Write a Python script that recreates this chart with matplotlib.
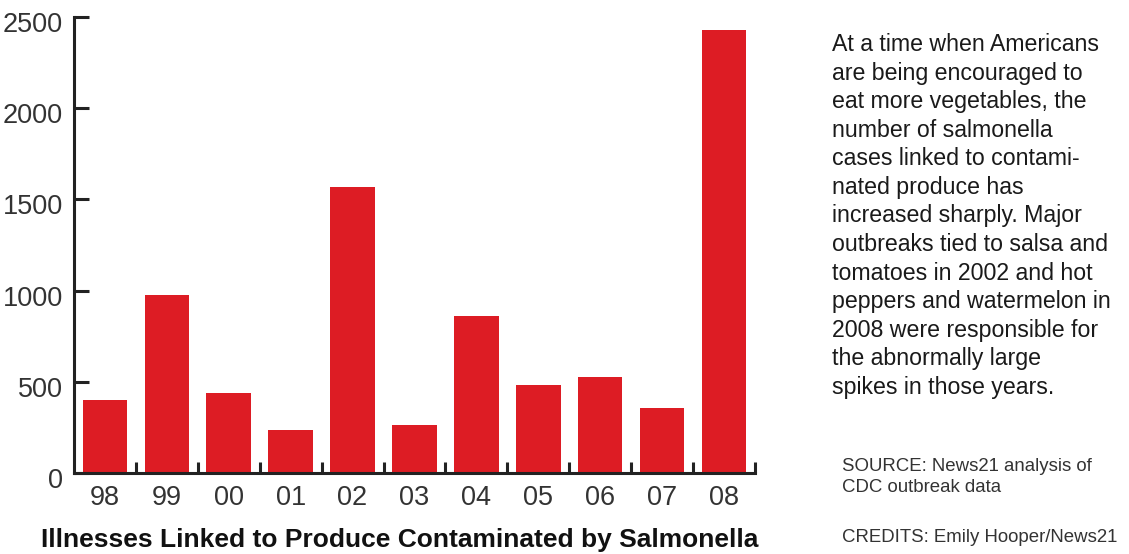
"""Salmonella illnesses linked to contaminated produce, 1998-2008."""

import matplotlib

matplotlib.use("Agg")
import matplotlib.pyplot as plt
import matplotlib.transforms as mtransforms
import numpy as np

plt.rcParams["font.family"] = ["Liberation Sans", "DejaVu Sans"]

years = ["98", "99", "00", "01", "02", "03", "04", "05", "06", "07", "08"]
illnesses = [400, 978, 438, 236, 1570, 263, 862, 480, 527, 353, 2430]
y_ticks = [0, 500, 1000, 1500, 2000, 2500]

title = "Illnesses Linked to Produce Contaminated by Salmonella"
blurb = (
    "At a time when Americans\n"
    "are being encouraged to\n"
    "eat more vegetables, the\n"
    "number of salmonella\n"
    "cases linked to contami-\n"
    "nated produce has\n"
    "increased sharply. Major\n"
    "outbreaks tied to salsa and\n"
    "tomatoes in 2002 and hot\n"
    "peppers and watermelon in\n"
    "2008 were responsible for\n"
    "the abnormally large\n"
    "spikes in those years."
)
source = "SOURCE: News21 analysis of\nCDC outbreak data"
credits = "CREDITS: Emily Hooper/News21"

RED = "#dd1c24"
INK = "#222222"

fig = plt.figure(figsize=(11.29, 5.54), dpi=100)
ax = fig.add_axes([0.0655, 0.1468, 0.6032, 0.822])

x = np.arange(len(years))
ax.bar(x, illnesses, width=0.72, color=RED, zorder=1)

ax.set_xlim(-0.5, len(years) - 0.5)
ax.set_ylim(0, 2500)
for side in ("top", "right"):
    ax.spines[side].set_visible(False)
for side in ("left", "bottom"):
    ax.spines[side].set_linewidth(2.2)
    ax.spines[side].set_color(INK)
    ax.spines[side].set_zorder(3)

# year labels sit under the bars, small separator ticks between them
ax.set_xticks(x, years)
ax.tick_params(axis="x", length=0, pad=9, labelsize=19.5, labelcolor="#333333")
ax.set_xticks(np.arange(len(years)) + 0.5, minor=True)
ax.tick_params(axis="x", which="minor", direction="in", length=8, width=2.2, color=INK)

ax.set_yticks(y_ticks)
ax.tick_params(axis="y", direction="in", length=11, width=2.2, color=INK,
               pad=8, labelsize=19.5, labelcolor="#333333")
shift = mtransforms.ScaledTranslation(0, -5 / 100, fig.dpi_scale_trans)
for label in ax.get_yticklabels():
    label.set_transform(label.get_transform() + shift)

fig.text(400 / 1129, 1 - 540 / 554, title, ha="center", va="center",
         fontsize=19, fontweight="bold", color="#111111")

fig.text(832 / 1129, 1 - 33 / 554, blurb, ha="left", va="top",
         fontsize=16.7, linespacing=1.31, color="#1a1a1a")
fig.text(842 / 1129, 1 - 458 / 554, source, ha="left", va="top",
         fontsize=13.4, linespacing=1.3, color="#333333")
fig.text(842 / 1129, 1 - 538 / 554, credits, ha="left", va="center",
         fontsize=13.4, color="#333333")

fig.savefig("out.png", dpi=100)
